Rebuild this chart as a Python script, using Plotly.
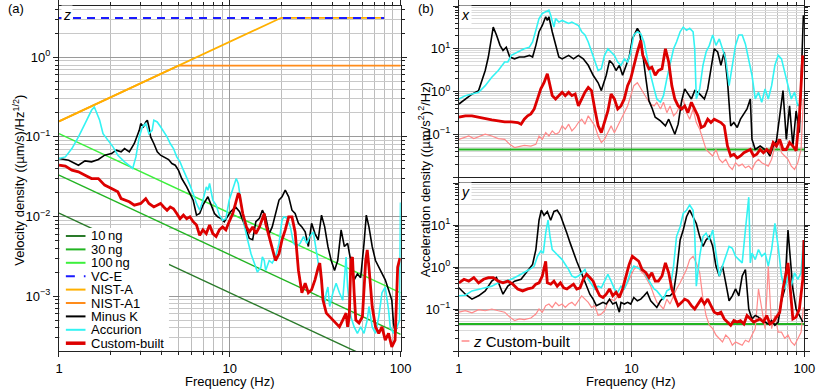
import plotly.graph_objects as go

W, H = 830, 391
FONT = 'Liberation Sans, Arial, sans-serif'

COLORS = {
    'ng10': '#2a7a2a',
    'ng30': '#22b422',
    'ng100': '#3cf03c',
    'vce': '#1a1aff',
    'nista': '#ffb000',
    'nista1': '#ff8c1a',
    'minusk': '#000000',
    'accurion': '#33f3f3',
    'custom': '#dd0000',
    'zcustom': '#ff8a8a',
}

# ---------------- (a) velocity density, z direction ----------------
ref_f = [1, 100]
ng10_v = [0.0110, 0.000110]
ng30_v = [0.0331, 0.000331]
ng100_v = [0.110, 0.00110]

vce_f = [1, 80]
vce_v = [3.12, 3.12]
nista_f = [1, 20, 80]
nista_v = [0.157, 3.14, 3.14]
nista1_f = [1, 5, 100]
nista1_v = [0.157, 0.785, 0.785]

mk_f = [1.00, 1.14, 1.30, 1.42, 1.55, 1.70, 1.85, 2.03, 2.16, 2.31,
        2.42, 2.58, 2.76, 2.95, 3.01, 3.12, 3.22, 3.29, 3.36, 3.44,
        3.59, 3.76, 3.93, 4.10, 4.38, 4.58, 4.79, 5.00, 5.23, 5.59,
        5.84, 6.10, 6.38, 6.66, 6.96, 7.28, 7.44, 7.78, 8.13, 8.49,
        8.87, 9.28, 9.70, 10.1, 10.8,
        11.4, 12.2, 13.0, 13.6, 14.2, 14.9, 15.5, 16.2, 17.0, 17.7,
        18.5, 19.4, 20.2, 21.1, 22.1, 23.1, 24.1, 25.2, 26.4, 27.6,
        28.8, 30.1, 31.5, 32.9, 34.4, 35.9, 37.5, 39.2, 41.0, 42.8,
        44.8, 46.8, 48.9, 51.1, 53.4, 55.8, 58.3, 61.0, 62.9, 65.2,
        68.1, 71.2, 74.4, 77.7, 81.2, 84.9, 88.7, 90.7, 92.7, 95.0]
mk_v = [0.0535, 0.0509, 0.0441, 0.0500, 0.0486, 0.0520, 0.0589, 0.0618, 0.0681, 0.0649,
        0.0714, 0.0649, 0.0826, 0.121, 0.147, 0.134, 0.154, 0.162, 0.134, 0.100,
        0.0826, 0.0649, 0.0589, 0.0561, 0.0520, 0.0463, 0.0441, 0.0382, 0.0300, 0.0236,
        0.0195, 0.0160, 0.0104, 0.0109, 0.0139, 0.0160, 0.0177, 0.0139, 0.0109, 0.0099,
        0.0094, 0.0086, 0.0099, 0.0115, 0.0132,
        0.0115, 0.0078, 0.0053, 0.0051, 0.0086, 0.0095, 0.0120, 0.0099, 0.0061, 0.0074,
        0.0109, 0.0161, 0.0177, 0.0214, 0.0177, 0.0120, 0.0109, 0.0082, 0.0074, 0.0064,
        0.0042, 0.0082, 0.0061, 0.0051, 0.0104, 0.0074, 0.0042, 0.0028, 0.0021, 0.0028,
        0.0068, 0.0042, 0.0046, 0.0028, 0.0016, 0.0019, 0.0017, 0.0046, 0.0104, 0.0074,
        0.0042, 0.0028, 0.0023, 0.0019, 0.0016, 0.0012, 0.00089, 0.00046, 0.00035, 0.0004]

ac_f = [1.00, 1.09, 1.19, 1.30, 1.42, 1.55, 1.61, 1.66, 1.73, 1.81,
        1.94, 2.07, 2.21, 2.42, 2.64, 2.70, 2.82, 2.95, 3.08, 3.22,
        3.36, 3.51, 3.59, 3.76, 3.93, 4.10, 4.29, 4.48, 4.68, 4.89,
        5.11, 5.35, 5.59, 5.84, 6.10, 6.38, 6.66, 6.96, 7.28, 7.44,
        7.61, 7.95, 8.31, 8.68, 9.07, 9.48, 9.91, 10.4, 10.9, 11.2,
        11.7, 12.2, 12.7, 13.3, 13.9, 14.5, 15.2, 15.5, 15.9, 16.2,
        17.0, 17.7, 18.5, 19.4, 20.2, 20.7, 21.6, 22.6, 23.6, 24.7,
        25.8, 27.0, 28.2, 29.4, 30.8, 32.2, 33.6, 35.1, 35.9, 36.7,
        37.5, 38.4, 40.1, 41.9, 43.8, 45.8, 46.8, 47.9, 48.9, 51.1,
        53.4, 55.8, 58.3, 61.0, 63.7, 65.2, 68.1, 71.2, 74.4, 77.7,
        81.2, 84.9, 86.8, 90.7, 94.8, 98.5, 99.7]
ac_v = [0.0535, 0.0561, 0.0714, 0.100, 0.147, 0.216, 0.238, 0.206, 0.162, 0.110,
        0.0908, 0.0750, 0.0589, 0.0486, 0.0421, 0.0401, 0.0561, 0.100, 0.134, 0.147,
        0.110, 0.121, 0.162, 0.154, 0.134, 0.116, 0.100, 0.0826, 0.0714, 0.0561,
        0.0486, 0.0382, 0.0315, 0.0248, 0.0195, 0.0146, 0.0120, 0.0160, 0.0236, 0.0214,
        0.0260, 0.0160, 0.0139, 0.0104, 0.0090, 0.0094, 0.0160, 0.0214, 0.0300, 0.0260,
        0.0146, 0.0074, 0.0051, 0.0034, 0.0026, 0.0020, 0.0023, 0.0031, 0.0028, 0.0021,
        0.0028, 0.0026, 0.0031, 0.0046, 0.0090, 0.0099, 0.0095, 0.0074, 0.0046, 0.0042,
        0.0046, 0.0056, 0.0046, 0.0056, 0.0064, 0.0034, 0.0021, 0.0011, 0.00081, 0.0011,
        0.0013, 0.00074, 0.0011, 0.00145, 0.0011, 0.00089, 0.0016, 0.0031, 0.0013, 0.00055,
        0.00041, 0.00034, 0.00041, 0.00034, 0.00050, 0.00074, 0.00041, 0.00034, 0.00055, 0.0011,
        0.0013, 0.00067, 0.00041, 0.00034, 0.0004, 0.0005, 0.015]

cb_f = [1.00, 1.09, 1.19, 1.30, 1.42, 1.55, 1.70, 1.85, 2.03, 2.21,
        2.31, 2.42, 2.58, 2.76, 3.01, 3.22, 3.36, 3.59, 3.76, 3.93,
        4.10, 4.29, 4.48, 4.68, 4.89, 5.11, 5.35, 5.59, 5.84, 6.10,
        6.38, 6.66, 6.96, 7.28, 7.61, 7.95, 8.31, 8.68, 9.07, 9.48,
        9.91, 10.4, 10.8, 11.2, 11.4, 11.9, 12.5, 13.0, 13.6, 14.2,
        14.9, 15.5, 15.9, 16.2, 17.0, 17.7, 18.5, 19.4, 20.2, 21.1,
        22.1, 23.1, 24.1, 25.2, 26.4, 27.6, 28.8, 30.1, 31.5, 32.9,
        33.6, 34.4, 35.1, 36.7, 38.4, 40.1, 41.9, 43.8, 45.8, 47.9,
        48.9, 50.0, 51.1, 52.2, 53.4, 54.6, 57.0, 59.7, 62.4, 63.7,
        65.2, 68.1, 71.2, 74.4, 77.7, 81.2, 84.9, 88.7, 92.7, 96.0,
        99.0]
cb_v = [0.0441, 0.0429, 0.0382, 0.0364, 0.0330, 0.0300, 0.0300, 0.0248, 0.0225, 0.0204,
        0.0168, 0.0160, 0.0153, 0.0139, 0.0146, 0.0168, 0.0146, 0.0132, 0.0139, 0.0146,
        0.0132, 0.0120, 0.0132, 0.0125, 0.0109, 0.0094, 0.0104, 0.0094, 0.0099, 0.0086,
        0.0078, 0.0058, 0.0068, 0.0061, 0.0078, 0.0061, 0.0056, 0.0068, 0.0074, 0.0068,
        0.0086, 0.0109, 0.0146, 0.0195, 0.0186, 0.0109, 0.0074, 0.0064, 0.0074, 0.0061,
        0.0074, 0.0095, 0.0109, 0.0082, 0.0056, 0.0042, 0.0028, 0.0034, 0.0051, 0.0068,
        0.0099, 0.0099, 0.0064, 0.0021, 0.0011, 0.00145, 0.0011, 0.0012, 0.0016, 0.0023,
        0.0026, 0.0016, 0.00089, 0.00061, 0.00055, 0.00050, 0.00046, 0.00041, 0.00050, 0.00061,
        0.00041, 0.00055, 0.0028, 0.0031, 0.0011, 0.00050, 0.00046, 0.00055, 0.0028, 0.0038,
        0.0023, 0.00074, 0.00041, 0.00034, 0.00041, 0.00028, 0.00034, 0.00023, 0.00028, 0.0023,
        0.0030]

# ---------------- (b) acceleration density, x direction ----------------
acc_floor_f = [1, 100]
acc_floor_v = [0.044, 0.044]

bx_mk_f = [1.00, 1.09, 1.19, 1.30, 1.42, 1.48, 1.58, 1.65, 1.73, 1.80,
           1.88, 1.97, 2.10, 2.24, 2.39, 2.56, 2.67, 2.79, 2.91, 3.04,
           3.18, 3.25, 3.32, 3.47, 3.63, 3.79, 3.96, 4.13, 4.32, 4.61,
           4.92, 5.25, 5.61, 5.99, 6.40, 6.68, 7.13, 7.45, 7.78, 8.13,
           8.49, 8.87, 9.27, 9.68, 10.1, 10.6, 10.8, 11.1, 11.5, 12.1,
           12.6, 13.1, 13.7, 14.7, 15.7, 16.4, 17.1, 17.8, 18.6, 19.5,
           20.3, 21.2, 22.2, 23.2, 24.2, 25.3, 26.4, 27.6, 28.8, 30.1,
           31.5, 32.9, 34.4, 35.9, 37.5, 39.1, 40.9, 42.7, 46.6, 48.7,
           49.8, 52.0, 55.5, 60.6, 63.3, 66.1, 69.0, 72.1, 75.3, 78.7,
           82.2, 85.9, 89.7, 93.7, 98.8]
bx_mk_v = [0.51, 0.67, 0.87, 1.05, 3.1, 6.4, 32, 21, 12, 9.1,
           10.9, 6.4, 5.8, 6.4, 6.4, 7.0, 6.4, 12, 25, 35,
           56, 46, 56, 25, 12, 6.4, 5.8, 6.4, 7.0, 5.8,
           7.0, 5.8, 4.1, 2.4, 1.6, 1.05, 2.4, 5.3, 4.4, 3.1,
           4.1, 2.4, 4.1, 6.4, 17, 25, 30, 25, 10, 2.0,
           0.61, 0.42, 0.25, 0.206, 0.157, 0.225, 0.144, 0.100, 0.172, 0.61,
           1.15, 0.87, 0.67, 1.05, 0.96, 0.80, 0.67, 1.15, 3.4, 10,
           8.4, 4.1, 8.4, 1.8, 0.157, 0.188, 0.144, 0.225, 0.39, 0.67,
           0.076, 0.044, 0.053, 0.041, 0.031, 0.053, 0.070, 0.32, 1.05, 0.076,
           0.46, 0.053, 0.35, 0.109, 61]

bx_ac_f = [1.00, 1.09, 1.19, 1.30, 1.42, 1.55, 1.69, 1.84, 1.92, 2.01,
           2.19, 2.39, 2.56, 2.67, 2.79, 2.91, 3.04, 3.18, 3.32, 3.40,
           3.55, 3.63, 3.79, 3.96, 4.13, 4.32, 4.51, 4.71, 4.92, 5.14,
           5.37, 5.61, 5.86, 6.12, 6.40, 6.68, 6.97, 7.29, 7.61, 7.95,
           8.31, 8.68, 9.07, 9.48, 9.89, 10.3, 10.8, 11.3, 11.8, 12.3,
           12.9, 13.5, 14.0, 14.7, 15.3, 16.0, 16.7, 17.5, 18.2, 19.1,
           19.9, 20.8, 21.7, 22.7, 23.2, 23.7, 24.8, 25.9, 27.0, 28.2,
           29.5, 30.8, 32.2, 33.6, 35.1, 36.7, 38.3, 40.0, 41.8, 43.7,
           45.6, 47.7, 49.8, 52.0, 54.3, 56.7, 59.3, 61.9, 64.7, 67.6,
           70.6, 73.8, 77.1, 80.5, 84.1, 87.8, 91.7, 95.8]
bx_ac_v = [0.67, 0.80, 0.87, 0.96, 1.37, 2.15, 3.1, 4.9, 4.9, 7.0,
           8.4, 10, 10.9, 14.4, 27, 51, 67, 73, 80, 61,
           32, 51, 42, 46, 42, 39, 42, 39, 35, 25,
           21, 14.4, 8.4, 4.9, 3.1, 3.4, 7.0, 10, 8.4, 7.0,
           4.9, 4.1, 5.8, 4.9, 8.4, 21, 25, 22.5, 14.4, 5.8,
           2.4, 1.15, 0.67, 0.56, 0.80, 2.0, 4.1, 10, 14.4, 25,
           32, 27, 30, 25, 10, 0.67, 1.15, 4.1, 8.4, 12,
           21, 12, 17, 10, 5.8, 1.37, 4.1, 12, 21, 21,
           13, 5.8, 2.4, 0.67, 0.96, 0.56, 1.15, 0.67, 1.37, 4.1,
           7.0, 5.8, 2.8, 1.6, 0.67, 0.96, 0.46, 0.56]

bx_cb_f = [1.00, 1.09, 1.19, 1.30, 1.42, 1.55, 1.69, 1.84, 2.01, 2.19,
           2.29, 2.39, 2.50, 2.61, 2.73, 2.85, 2.98, 3.11, 3.25, 3.32,
           3.47, 3.63, 3.79, 3.96, 4.13, 4.32, 4.51, 4.71, 4.92, 5.14,
           5.37, 5.61, 5.86, 6.12, 6.40, 6.68, 6.97, 7.29, 7.61, 7.95,
           8.31, 8.68, 9.07, 9.48, 9.89, 10.3, 10.8, 11.3, 11.6, 12.1,
           12.6, 13.1, 13.7, 14.3, 15.0, 15.7, 16.4, 17.1, 17.8, 18.6,
           19.5, 20.3, 21.2, 22.2, 23.2, 24.2, 25.3, 26.4, 27.6, 28.8,
           30.1, 31.5, 32.9, 34.4, 35.9, 37.5, 39.1, 40.9, 42.7, 44.7,
           46.6, 48.7, 50.9, 53.1, 55.5, 58.0, 60.6, 63.3, 66.1, 69.0,
           72.1, 75.3, 78.7, 82.2, 85.9, 89.7, 93.7, 98.0]
bx_cb_v = [0.25, 0.27, 0.27, 0.25, 0.225, 0.217, 0.206, 0.195, 0.195, 0.188,
           0.172, 0.225, 0.27, 0.30, 0.39, 0.67, 1.15, 1.6, 2.6, 1.8,
           0.80, 0.67, 0.80, 0.96, 0.80, 0.96, 0.80, 0.87, 0.46, 0.67,
           0.96, 1.25, 1.05, 0.39, 0.157, 0.109, 0.188, 0.35, 0.87, 0.67,
           0.39, 0.46, 0.67, 1.37, 2.0, 4.1, 8.4, 15.7, 7.0, 4.9,
           3.4, 3.7, 2.4, 3.1, 3.4, 10, 4.9, 1.37, 0.67, 0.46,
           0.39, 0.46, 0.32, 0.56, 0.39, 0.27, 0.144, 0.157, 0.225, 0.188,
           0.225, 0.206, 0.188, 0.157, 0.053, 0.031, 0.034, 0.028, 0.031, 0.037,
           0.041, 0.044, 0.031, 0.034, 0.044, 0.037, 0.044, 0.037, 0.064, 0.053,
           0.076, 0.044, 0.044, 0.064, 0.053, 0.041, 0.27, 7.0]

bx_z_f = [1.00, 1.07, 1.14, 1.22, 1.30, 1.42, 1.55, 1.69, 1.84, 1.97,
          2.10, 2.24, 2.39, 2.61, 2.79, 2.91, 3.04, 3.18, 3.32, 3.47,
          3.63, 3.79, 3.96, 4.13, 4.32, 4.51, 4.71, 4.92, 5.14, 5.37,
          5.61, 5.86, 6.12, 6.40, 6.68, 6.97, 7.29, 7.61, 7.95, 8.31,
          8.68, 9.07, 9.48, 9.89, 10.3, 10.8, 11.3, 11.8, 12.3, 12.9,
          13.5, 14.0, 14.7, 15.3, 16.0, 16.7, 17.5, 18.2, 19.1, 19.9,
          20.8, 21.7, 22.7, 23.7, 24.8, 25.9, 27.0, 28.2, 29.5, 30.8,
          32.2, 33.6, 35.1, 36.7, 38.3, 40.0, 41.8, 43.7, 45.6, 47.7,
          49.8, 52.0, 54.3, 56.7, 59.3, 61.9, 64.7, 67.6, 70.6, 73.8,
          77.1, 80.5, 84.1, 87.8, 91.7, 95.8, 98.8]
bx_z_v = [0.076, 0.084, 0.091, 0.079, 0.088, 0.100, 0.091, 0.079, 0.076, 0.058,
          0.049, 0.053, 0.055, 0.053, 0.058, 0.091, 0.076, 0.109, 0.091, 0.120,
          0.100, 0.109, 0.157, 0.131, 0.172, 0.120, 0.144, 0.188, 0.225, 0.172,
          0.27, 0.206, 0.157, 0.091, 0.064, 0.076, 0.109, 0.157, 0.109, 0.157,
          0.225, 0.32, 0.46, 0.80, 1.37, 1.6, 1.15, 0.87, 0.67, 0.51,
          0.46, 0.56, 0.39, 0.56, 0.32, 0.46, 0.27, 0.32, 0.46, 0.67,
          0.32, 0.225, 0.39, 0.188, 0.131, 0.076, 0.044, 0.037, 0.031, 0.044,
          0.026, 0.0216, 0.026, 0.018, 0.015, 0.0216, 0.018, 0.020, 0.0164, 0.018,
          0.015, 0.0216, 0.026, 0.0216, 0.020, 0.018, 0.026, 0.053, 0.076, 0.037,
          0.031, 0.026, 0.018, 0.015, 0.0216, 0.044, 0.67]

# ---------------- (b) acceleration density, y direction ----------------
by_mk_f = [1.00, 1.09, 1.19, 1.30, 1.42, 1.55, 1.65, 1.73, 1.80, 1.92,
           2.10, 2.29, 2.50, 2.67, 2.79, 2.91, 3.00, 3.11, 3.25, 3.40,
           3.55, 3.71, 3.87, 4.04, 4.22, 4.41, 4.61, 4.81, 5.03, 5.25,
           5.49, 5.73, 5.99, 6.25, 6.54, 6.83, 7.13, 7.45, 7.78, 8.13,
           8.49, 8.68, 9.07, 9.48, 9.89, 10.3, 10.8, 11.3, 11.8, 12.3,
           12.9, 13.5, 14.0, 14.7, 15.7, 16.7, 17.5, 18.2, 19.1, 19.9,
           20.8, 21.7, 22.7, 23.7, 24.8, 25.9, 27.0, 28.2, 29.5, 30.8,
           32.2, 33.6, 35.1, 36.7, 38.3, 40.0, 41.8, 43.7, 45.6, 47.7,
           49.8, 52.0, 54.3, 56.7, 59.3, 61.9, 64.7, 67.6, 70.6, 73.8,
           77.1, 80.5, 82.2, 85.9, 89.7, 93.7, 98.0]
by_mk_v = [0.32, 0.225, 0.172, 0.206, 0.27, 0.46, 0.56, 0.35, 0.225, 0.35,
           0.46, 0.51, 0.80, 1.15, 2.6, 13, 22.5, 17, 21, 13,
           21, 22.5, 17, 10.9, 6.4, 3.7, 2.15, 1.37, 0.87, 0.56,
           0.39, 0.225, 0.172, 0.120, 0.131, 0.144, 0.131, 0.172, 0.131, 0.144,
           0.084, 0.144, 0.131, 0.144, 0.131, 0.188, 0.157, 0.172, 0.206, 0.25,
           0.157, 0.131, 0.109, 0.157, 0.206, 0.206, 0.25, 0.73, 4.4, 7.6,
           15.7, 22.5, 15.7, 10.9, 5.3, 3.1, 4.4, 5.3, 3.1, 1.05,
           0.61, 1.05, 0.42, 0.157, 0.206, 0.30, 0.206, 0.61, 0.87, 0.100,
           0.058, 0.070, 0.064, 0.053, 0.049, 0.044, 0.053, 0.041, 0.049, 0.157,
           0.30, 7.6, 2.6, 0.30, 0.100, 0.070, 0.049]

by_ac_f = [1.00, 1.09, 1.19, 1.30, 1.42, 1.55, 1.69, 1.84, 2.01, 2.19,
           2.39, 2.56, 2.73, 2.85, 2.98, 3.08, 3.18, 3.28, 3.37, 3.47,
           3.63, 3.79, 3.96, 4.13, 4.32, 4.51, 4.71, 4.92, 5.14, 5.37,
           5.61, 5.86, 6.12, 6.40, 6.68, 6.97, 7.29, 7.61, 7.95, 8.31,
           8.68, 9.07, 9.48, 9.89, 10.3, 10.8, 11.3, 11.8, 12.3, 12.9,
           13.5, 14.0, 14.7, 15.3, 16.0, 16.7, 17.5, 18.2, 19.1, 19.9,
           20.8, 21.7, 22.7, 23.2, 23.7, 24.8, 25.9, 27.0, 28.2, 29.5,
           30.8, 32.2, 33.6, 35.1, 36.7, 38.3, 40.0, 41.8, 43.7, 45.6,
           47.7, 48.7, 49.8, 52.0, 54.3, 56.7, 59.3, 61.9, 64.7, 67.6,
           70.6, 73.8, 77.1, 80.5, 84.1, 87.8, 91.7, 95.8, 98.8]
by_ac_v = [0.206, 0.213, 0.27, 0.30, 0.32, 0.35, 0.42, 0.46, 0.51, 0.61,
           0.73, 0.87, 1.05, 1.8, 2.4, 2.15, 6.4, 13, 5.3, 2.6,
           2.15, 1.8, 1.5, 1.15, 0.87, 0.61, 0.56, 0.61, 0.73, 0.87,
           0.51, 0.39, 0.30, 0.35, 0.32, 0.46, 0.67, 0.46, 0.30, 0.25,
           0.35, 0.30, 0.46, 0.80, 1.05, 0.96, 0.87, 0.80, 0.56, 0.42,
           0.30, 0.27, 0.206, 0.172, 0.27, 0.30, 1.05, 5.3, 9.1, 18.8,
           22.5, 30, 22.5, 6.4, 0.35, 1.8, 5.3, 6.4, 4.4, 7.6,
           2.15, 0.61, 1.05, 1.8, 3.1, 2.8, 1.8, 1.5, 1.25, 7.6,
           46, 1.25, 2.15, 1.5, 2.6, 1.8, 2.15, 1.05, 2.6, 10.9,
           3.1, 0.61, 0.30, 0.61, 0.35, 0.73, 0.51, 0.73, 4.4]

by_cb_f = [1.00, 1.07, 1.14, 1.22, 1.30, 1.39, 1.48, 1.58, 1.69, 1.80,
           1.92, 2.05, 2.19, 2.34, 2.50, 2.67, 2.79, 2.91, 3.04, 3.18,
           3.25, 3.40, 3.55, 3.71, 3.87, 4.04, 4.22, 4.41, 4.61, 4.81,
           5.03, 5.25, 5.49, 5.73, 5.99, 6.25, 6.54, 6.83, 7.13, 7.45,
           7.78, 8.13, 8.49, 8.87, 9.27, 9.68, 10.1, 10.6, 11.0, 11.5,
           12.1, 12.6, 13.1, 13.7, 14.3, 15.0, 15.7, 16.4, 17.1, 17.8,
           18.6, 19.5, 20.3, 21.2, 22.2, 23.2, 24.2, 25.3, 26.4, 27.6,
           28.8, 30.1, 31.5, 32.9, 34.4, 35.9, 37.5, 39.1, 40.9, 42.7,
           44.7, 46.6, 48.7, 50.9, 53.1, 55.5, 58.0, 60.6, 63.3, 66.1,
           69.0, 72.1, 75.3, 78.7, 80.5, 82.2, 85.9, 89.7, 93.7, 98.0,
           99.5]
by_cb_v = [0.42, 0.51, 0.46, 0.56, 0.42, 0.51, 0.56, 0.56, 0.46, 0.42,
           0.46, 0.39, 0.30, 0.27, 0.30, 0.32, 0.39, 0.42, 0.61, 1.37,
           0.42, 0.39, 0.46, 0.35, 0.42, 0.32, 0.30, 0.35, 0.39, 0.30,
           0.32, 0.51, 0.67, 0.56, 0.46, 0.30, 0.206, 0.188, 0.225, 0.30,
           0.206, 0.25, 0.188, 0.30, 0.56, 1.15, 1.8, 1.5, 1.37, 0.87,
           0.73, 0.56, 0.73, 0.46, 0.46, 0.61, 1.25, 0.73, 0.30, 0.188,
           0.120, 0.144, 0.172, 0.157, 0.120, 0.100, 0.131, 0.172, 0.131, 0.172,
           0.120, 0.084, 0.076, 0.084, 0.058, 0.049, 0.041, 0.053, 0.049, 0.053,
           0.044, 0.070, 0.058, 0.049, 0.053, 0.058, 0.049, 0.070, 0.044, 0.049,
           0.064, 0.084, 0.30, 0.87, 1.25, 0.46, 0.058, 0.064, 0.100, 0.50,
           4.4]

by_z_f = [1.00, 1.09, 1.19, 1.30, 1.42, 1.55, 1.69, 1.84, 1.97, 2.10,
          2.24, 2.39, 2.61, 2.79, 2.91, 3.04, 3.18, 3.32, 3.47, 3.63,
          3.79, 3.96, 4.13, 4.32, 4.51, 4.71, 4.92, 5.14, 5.37, 5.61,
          5.86, 6.12, 6.40, 6.68, 6.97, 7.29, 7.61, 7.95, 8.31, 8.68,
          9.07, 9.48, 9.89, 10.3, 10.8, 11.3, 11.8, 12.3, 12.9, 13.5,
          14.0, 14.7, 15.3, 16.0, 16.7, 17.5, 18.2, 19.1, 19.9, 20.8,
          21.7, 22.7, 23.7, 24.8, 25.9, 27.0, 28.2, 29.5, 30.8, 32.2,
          33.6, 35.1, 36.7, 38.3, 40.0, 41.8, 43.7, 45.6, 47.7, 49.8,
          52.0, 54.3, 56.7, 59.3, 61.9, 64.7, 67.6, 70.6, 73.8, 77.1,
          80.5, 84.1, 87.8, 91.7, 95.8, 98.8]
by_z_v = [0.084, 0.091, 0.081, 0.096, 0.091, 0.100, 0.091, 0.084, 0.064, 0.053,
          0.058, 0.056, 0.061, 0.076, 0.100, 0.084, 0.120, 0.131, 0.109, 0.144,
          0.120, 0.131, 0.109, 0.131, 0.144, 0.120, 0.157, 0.206, 0.172, 0.144,
          0.109, 0.120, 0.070, 0.076, 0.091, 0.144, 0.172, 0.157, 0.206, 0.25,
          0.30, 0.42, 0.61, 0.87, 1.05, 0.80, 0.67, 0.51, 0.35, 0.206,
          0.144, 0.120, 0.100, 0.172, 0.131, 0.206, 0.30, 0.42, 0.61, 0.87,
          1.5, 1.8, 1.25, 0.73, 0.172, 0.070, 0.041, 0.034, 0.024, 0.020,
          0.0164, 0.024, 0.020, 0.0137, 0.0164, 0.015, 0.0137, 0.018, 0.0164, 0.024,
          0.034, 0.30, 0.109, 0.034, 1.05, 0.034, 0.070, 0.028, 0.028, 0.020,
          0.024, 0.0164, 0.0137, 0.020, 0.028, 0.109]


def px(x):
    return x / W


def py(y):
    return 1 - y / H


fig = go.Figure()


def add_line(f, v, color, width, ax='', dash=None):
    fig.add_trace(go.Scatter(
        x=f, y=v, mode='lines',
        line=dict(color=color, width=width, dash=dash),
        xaxis='x' + ax, yaxis='y' + ax,
        showlegend=False, hoverinfo='skip'
    ))


# panel (a)
add_line(ref_f, ng10_v, COLORS['ng10'], 1.4)
add_line(ref_f, ng30_v, COLORS['ng30'], 1.4)
add_line(ref_f, ng100_v, COLORS['ng100'], 1.4)
add_line(nista1_f, nista1_v, COLORS['nista1'], 1.8)
add_line(nista_f, nista_v, COLORS['nista'], 1.8)
add_line(vce_f, vce_v, COLORS['vce'], 2, dash='8px,6px')
add_line(mk_f, mk_v, COLORS['minusk'], 1.6)
add_line(ac_f, ac_v, COLORS['accurion'], 1.6)
add_line(cb_f, cb_v, COLORS['custom'], 2.8)

# panel (b) x and y
for ax, m, a, c, z in [('2', (bx_mk_f, bx_mk_v), (bx_ac_f, bx_ac_v), (bx_cb_f, bx_cb_v), (bx_z_f, bx_z_v)),
                       ('3', (by_mk_f, by_mk_v), (by_ac_f, by_ac_v), (by_cb_f, by_cb_v), (by_z_f, by_z_v))]:
    add_line(acc_floor_f, acc_floor_v, COLORS['ng30'], 2, ax)
    add_line(*z, COLORS['zcustom'], 1.2, ax)
    add_line(*m, COLORS['minusk'], 1.6, ax)
    add_line(*a, COLORS['accurion'], 1.6, ax)
    add_line(*c, COLORS['custom'], 2.8, ax)


def sup(e):
    return '10<sup>' + (str(e) if e >= 0 else '\u2212' + str(-e)) + '</sup>'


minor_x = [m * 10 ** e for e in (0, 1) for m in range(2, 10)]
minor_y_a = [m * 10.0 ** e for e in range(-4, 1) for m in range(2, 10)]
minor_y_b = [m * 10.0 ** e for e in range(-2, 2) for m in range(2, 10)]

common = dict(type='log', showline=True, linecolor='#222', linewidth=1.2, mirror='ticks',
              ticks='outside', ticklen=5, tickcolor='#222', zeroline=False,
              tickfont=dict(size=13, color='black', family=FONT))

xaxis_common = dict(common, range=[0, 2], tickmode='array', tickvals=[1, 10, 100],
                    ticktext=['1', '10', '100'], gridcolor='#9a9a9a', gridwidth=1,
                    minor=dict(tickmode='array', tickvals=minor_x, ticks='outside', ticklen=3,
                               tickcolor='#222', showgrid=True, gridcolor='#bdbdbd', gridwidth=1))

fig.update_layout(
    width=W, height=H,
    margin=dict(l=0, r=0, t=0, b=0),
    paper_bgcolor='white', plot_bgcolor='white',
    font=dict(family=FONT, color='black', size=13),
    showlegend=False,
    xaxis=dict(xaxis_common, domain=[px(56), px(404)], anchor='y'),
    yaxis=dict(common, domain=[py(351), py(6)], anchor='x', range=[-3.69, 0.645],
               tickmode='array', tickvals=[1e-3, 1e-2, 1e-1, 1],
               ticktext=[sup(-3), sup(-2), sup(-1), sup(0)],
               gridcolor='#9a9a9a',
               minor=dict(tickmode='array', tickvals=minor_y_a, ticks='outside', ticklen=3,
                          tickcolor='#222', showgrid=True, gridcolor='#c8c8c8')),
    xaxis2=dict(xaxis_common, domain=[px(463.3), px(815)], anchor='y2', showticklabels=False),
    yaxis2=dict(common, domain=[py(177), py(6)], anchor='x2', range=[-2, 2],
                tickmode='array', tickvals=[0.01, 0.1, 1, 10, 100],
                ticktext=['', sup(-1), sup(0), sup(1), ''],
                gridcolor='#b0b0b0',
                minor=dict(tickmode='array', tickvals=minor_y_b, ticks='outside', ticklen=3,
                           tickcolor='#222', showgrid=True, gridcolor='#dadada')),
    xaxis3=dict(xaxis_common, domain=[px(463.3), px(815)], anchor='y3'),
    yaxis3=dict(common, domain=[py(351), py(183)], anchor='x3', range=[-2, 2],
                tickmode='array', tickvals=[0.01, 0.1, 1, 10, 100],
                ticktext=['', sup(-1), sup(0), sup(1), ''],
                gridcolor='#b0b0b0',
                minor=dict(tickmode='array', tickvals=minor_y_b, ticks='outside', ticklen=3,
                           tickcolor='#222', showgrid=True, gridcolor='#dadada')),
)

shapes = []
annotations = []


def text(x, y, s, size=13, anchor='left', angle=0, bg=None):
    annotations.append(dict(x=px(x), y=py(y), xref='paper', yref='paper', text=s,
                            showarrow=False, xanchor=anchor, yanchor='middle',
                            textangle=angle, bgcolor=bg, borderpad=1,
                            font=dict(size=size, color='black', family=FONT)))


# legend of panel (a), drawn by hand to keep it compact
legend_items = [('10\u2009ng', COLORS['ng10'], 2, None),
                ('30\u2009ng', COLORS['ng30'], 2, None),
                ('100\u2009ng', COLORS['ng100'], 2, None),
                ('VC-E', COLORS['vce'], 2, 'dash'),
                ('NIST-A', COLORS['nista'], 2, None),
                ('NIST-A1', COLORS['nista1'], 2, None),
                ('Minus K', COLORS['minusk'], 2, None),
                ('Accurion', COLORS['accurion'], 2, None),
                ('Custom-built', COLORS['custom'], 3.5, None)]
shapes.append(dict(type='rect', xref='paper', yref='paper', x0=px(57), x1=px(168),
                   y0=py(350), y1=py(228), fillcolor='white', line=dict(width=0), layer='above'))
for i, (name, col, lw, dash) in enumerate(legend_items):
    yy = 236 + i * 13.4
    shapes.append(dict(type='line', xref='paper', yref='paper', x0=px(63), x1=px(83),
                       y0=py(yy), y1=py(yy), line=dict(color=col, width=lw, dash=dash), layer='above'))
    text(87, yy, name, size=13)

# legend of panel (b)
shapes.append(dict(type='rect', xref='paper', yref='paper', x0=px(464), x1=px(577),
                   y0=py(350), y1=py(331), fillcolor='white', line=dict(width=0), layer='above'))
shapes.append(dict(type='line', xref='paper', yref='paper', x0=px(466), x1=px(474),
                   y0=py(341), y1=py(341), line=dict(color=COLORS['zcustom'], width=1.5), layer='above'))
text(476, 341, '<i>z</i> Custom-built', size=15)

# axis / panel labels
text(64, 15, '<i>z</i>', size=14, anchor='center', bg='white')
text(470, 15, '<i>x</i>', size=14, anchor='center', bg='white')
text(470, 192, '<i>y</i>', size=14, anchor='center', bg='white')
text(2, 8, '(a)', size=13)
text(420, 8, '(b)', size=13)
text(230, 381, 'Frequency (Hz)', size=13, anchor='center')
text(639, 381, 'Frequency (Hz)', size=13, anchor='center')
text(15, 180, 'Velocity density ((\u00b5m/s)/Hz<sup>1/2</sup>)', size=13, anchor='center', angle=-90)
text(428, 180, 'Acceleration density ((\u00b5m/s<sup>2</sup>)<sup>2</sup>/Hz)', size=13,
     anchor='center', angle=-90)

fig.update_layout(shapes=shapes, annotations=annotations)

# the page's default body margin would shift the whole figure by 8 px
fig.write_html("out.html", config={'displayModeBar': False},
               post_script="document.body.style.margin='0';")
